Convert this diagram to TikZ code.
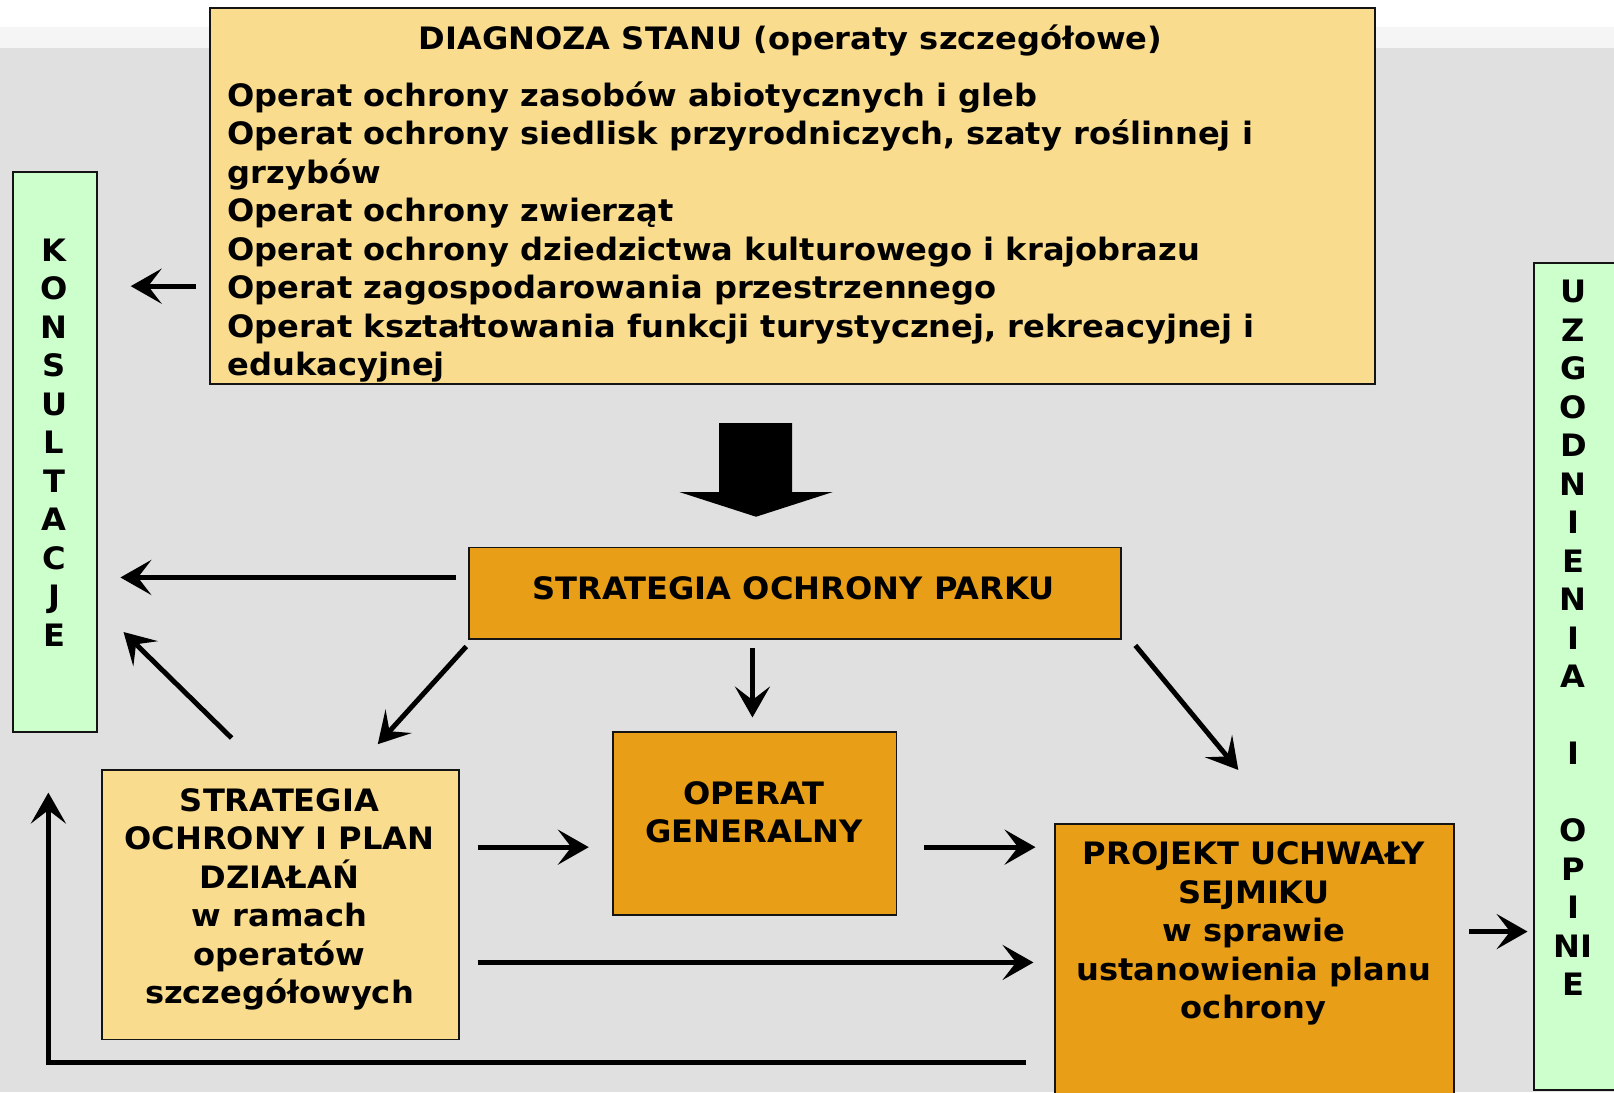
\documentclass[tikz,border=0pt]{standalone}
\usepackage{fontspec}
\setmainfont{DejaVu Sans}[FakeStretch=1.04]
\usetikzlibrary{arrows.meta}
\definecolor{bgGray}{RGB}{224,224,224}
\definecolor{bandGray}{RGB}{245,245,245}
\definecolor{lightBox}{RGB}{249,220,142}
\definecolor{orangeBox}{RGB}{232,158,22}
\definecolor{greenBox}{RGB}{204,255,204}
\definecolor{edge}{RGB}{20,20,20}
\begin{document}
\begin{tikzpicture}[x=1pt,y=-1pt,
  box/.style={draw=edge,line width=1.8pt,inner sep=0pt,anchor=north west},
  lbox/.style={box,fill=lightBox},
  obox/.style={box,fill=orangeBox},
  gbox/.style={box,fill=greenBox},
  txt/.style={inner sep=0pt,font=\fontsize{30}{37.4}\selectfont\bfseries},
  conn/.style={line width=4.8pt,-{Stealth[length=30pt,width=34pt,inset=13pt]}}]
\useasboundingbox (0,0) rectangle (1568,1061);
% background
\fill[white] (0,0) rectangle (1568,26);
\fill[bandGray] (0,26) rectangle (1568,47);
\fill[bgGray] (0,47) rectangle (1568,1061);

% boxes
\node[lbox,minimum width=1132pt,minimum height=365pt] (diag) at (203,7) {};
\node[gbox,minimum width=81pt,minimum height=544pt] (kons) at (12,166) {};
\node[gbox,minimum width=79pt,minimum height=803pt] (uzg) at (1489,255) {};
\node[obox,minimum width=633pt,minimum height=89pt] (sop) at (455,531) {};
\node[obox,minimum width=275pt,minimum height=178pt] (og) at (595,710) {};
\node[lbox,minimum width=347pt,minimum height=262pt] (sp) at (98,747) {};
\node[obox,minimum width=388pt,minimum height=270pt] (puch) at (1024,800) {};

% diagnoza text
\node[txt,anchor=base] (dtitle) at (768,48) {DIAGNOZA STANU (operaty szczegółowe)};
\foreach \t [count=\i] in {
  {Operat ochrony zasobów abiotycznych i gleb},
  {Operat ochrony siedlisk przyrodniczych, szaty roślinnej i},
  {grzybów},
  {Operat ochrony zwierząt},
  {Operat ochrony dziedzictwa kulturowego i krajobrazu},
  {Operat zagospodarowania przestrzennego},
  {Operat kształtowania funkcji turystycznej, rekreacyjnej i},
  {edukacyjnej}}
  \node[txt,anchor=base west] (dl\i) at (221,{103.5+37.35*(\i-1)}) {\t};

% konsultacje letters
\foreach \t [count=\i] in {K,O,N,S,U,L,T,A,C,J,E}
  \node[txt,anchor=base] (kl\i) at (52.5,{254+37.4*(\i-1)}) {\t};

% uzgodnienia letters
\foreach \i/\t in {1/U,2/Z,3/G,4/O,5/D,6/N,7/I,8/E,9/N,10/I,11/A,13/I,15/O,16/P,17/I,18/NI,19/E}
  \node[txt,anchor=base] (ul\i) at (1528.5,{294+37.4*(\i-1)}) {\t};

% box texts
\node[txt,anchor=base] (soptxt) at (771,582) {STRATEGIA OCHRONY PARKU};
\node[txt,anchor=base] (og1) at (732.5,782) {OPERAT};
\node[txt,anchor=base] (og2) at (732.5,818.5) {GENERALNY};
\foreach \t [count=\i] in {STRATEGIA,{OCHRONY I PLAN},{DZIAŁAŃ},{w ramach},{operatów},{szczegółowych}}
  \node[txt,anchor=base] (spl\i) at (271.5,{788+37.4*(\i-1)}) {\t};
\foreach \t [count=\i] in {{PROJEKT UCHWAŁY},SEJMIKU,{w sprawie},{ustanowienia planu},ochrony}
  \node[txt,anchor=base] (pul\i) at (1218,{840+37.4*(\i-1)}) {\t};

% block arrow
\fill[black] (698.5,411) -- (769.5,411) -- (769.5,478) -- (809,478) -- (734.5,502)
  -- (660,478) -- (698.5,478) -- cycle;

% connector end points
\coordinate (a1s) at (190,278);  \coordinate (a1e) at (127,278);
\coordinate (a2s) at (443,561);  \coordinate (a2e) at (117,561);
\coordinate (a3s) at (225,717);  \coordinate (a3e) at (120,614);
\coordinate (a4s) at (453,628);  \coordinate (a4e) at (367,723);
\coordinate (a5s) at (731,630);  \coordinate (a5e) at (731,697);
\coordinate (a6s) at (1103,627); \coordinate (a6e) at (1203,748);
\coordinate (a7s) at (464,823);  \coordinate (a7e) at (572,823);
\coordinate (a8s) at (898,823);  \coordinate (a8e) at (1006,823);
\coordinate (a9s) at (464,935);  \coordinate (a9e) at (1004,935);
\coordinate (a10s) at (1427,905); \coordinate (a10e) at (1484,905);
\coordinate (a11s) at (997,1032); \coordinate (a11m) at (47,1032); \coordinate (a11e) at (47,770);

\draw[conn] (a1s) -- (a1e);
\draw[conn] (a2s) -- (a2e);
\draw[conn] (a3s) -- (a3e);
\draw[conn] (a4s) -- (a4e);
\draw[conn] (a5s) -- (a5e);
\draw[conn] (a6s) -- (a6e);
\draw[conn] (a7s) -- (a7e);
\draw[conn] (a8s) -- (a8e);
\draw[conn] (a9s) -- (a9e);
\draw[conn] (a10s) -- (a10e);
\draw[conn] (a11s) -- (a11m) -- (a11e);
\end{tikzpicture}
\end{document}
